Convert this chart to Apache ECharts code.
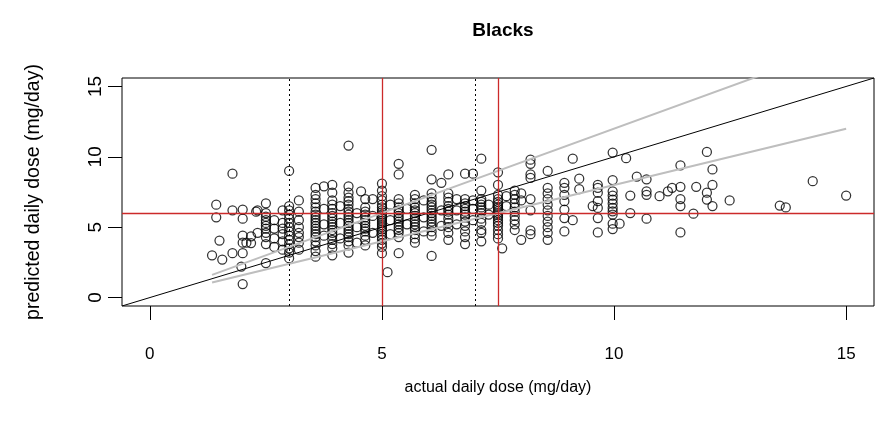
<!DOCTYPE html>
<html>
<head>
<meta charset="utf-8">
<title>Blacks</title>
<script src="https://cdn.jsdelivr.net/npm/echarts@6/dist/echarts.min.js"></script>
</head>
<body style="margin:0;background:#fff;">
<div id="main" style="width:876px;height:431px;"></div>
<script>
// actual dose (mg/day) -> predicted doses, one column per dose level
var doseColumns = [
  [1.34, [3.0]],
  [1.43, [6.6, 5.7]],
  [1.5, [4.05]],
  [1.56, [2.7]],
  [1.78, [8.8, 6.2, 3.15]],
  [1.97, [2.2]],
  [2.0, [6.25, 5.6, 4.4, 3.9, 3.15, 0.96]],
  [2.08, [3.9]],
  [2.18, [4.35, 3.87]],
  [2.29, [6.1]],
  [2.32, [6.2, 4.6]],
  [2.5, [6.7, 6.0, 5.75, 5.5, 5.3, 5.1, 4.9, 4.6, 4.3, 3.8, 2.45]],
  [2.68, [5.5, 4.9, 4.2, 3.6]],
  [2.86, [6.2, 5.3, 4.9, 4.5, 4.0, 3.4]],
  [3.0, [9.0, 6.5, 6.2, 5.9, 5.6, 5.3, 5.0, 4.7, 4.4, 4.1, 3.8, 3.5, 3.2, 2.8]],
  [3.21, [6.9, 6.1, 5.5, 5.0, 4.6, 4.3, 3.9, 3.4]],
  [3.57, [7.8, 7.3, 7.0, 6.7, 6.4, 6.1, 5.9, 5.7, 5.5, 5.3, 5.1, 4.9, 4.7, 4.5, 4.3, 4.0, 3.7, 3.3, 2.9]],
  [3.75, [7.9, 6.3, 5.2, 4.4]],
  [3.93, [8.0, 7.45, 6.9, 6.6, 6.3, 6.0, 5.8, 5.6, 5.4, 5.2, 5.0, 4.8, 4.6, 4.4, 4.1, 3.8, 3.5, 3.0]],
  [4.1, [6.5, 5.3, 4.2]],
  [4.28, [10.8, 7.9, 7.45, 7.1, 6.85, 6.6, 6.3, 6.1, 5.9, 5.7, 5.5, 5.3, 5.1, 4.9, 4.7, 4.5, 4.3, 4.0, 3.7, 3.2]],
  [4.46, [6.0, 5.0, 3.9]],
  [4.55, [7.55]],
  [4.64, [7.0, 6.4, 6.1, 5.9, 5.7, 5.5, 5.3, 5.1, 4.9, 4.7, 4.4, 4.1, 3.7]],
  [4.8, [7.0, 5.8, 4.6]],
  [5.0, [8.1, 7.6, 7.2, 6.9, 6.6, 6.4, 6.2, 6.05, 5.9, 5.75, 5.6, 5.45, 5.3, 5.15, 5.0, 4.85, 4.7, 4.5, 4.3, 4.1, 3.85, 3.6, 3.15]],
  [5.12, [1.8]],
  [5.18, [6.6, 5.5, 4.5]],
  [5.36, [9.5, 8.75, 7.0, 6.7, 6.4, 6.2, 6.0, 5.8, 5.6, 5.4, 5.2, 5.0, 4.8, 4.6, 4.3, 3.15]],
  [5.54, [6.3, 5.2]],
  [5.71, [7.3, 7.0, 6.7, 6.4, 6.2, 6.0, 5.8, 5.6, 5.4, 5.2, 5.0, 4.8, 4.5, 4.2, 3.9]],
  [5.9, [6.9, 5.7, 4.7]],
  [6.07, [10.5, 8.4, 7.4, 7.1, 6.8, 6.6, 6.4, 6.2, 6.0, 5.8, 5.6, 5.4, 5.2, 5.0, 4.7, 4.4, 2.96]],
  [6.28, [8.15, 6.2, 5.1]],
  [6.43, [8.75, 7.4, 7.1, 6.8, 6.5, 6.3, 6.1, 5.9, 5.6, 5.3, 5.0, 4.6, 4.1]],
  [6.61, [7.0, 6.2, 5.2]],
  [6.79, [8.8, 7.0, 6.7, 6.5, 6.3, 6.1, 5.9, 5.7, 5.4, 5.1, 4.7, 4.3, 3.8]],
  [6.96, [8.8, 6.9, 6.3, 5.5]],
  [7.14, [9.87, 7.6, 7.0, 6.8, 6.6, 6.4, 6.2, 6.0, 5.6, 5.3, 4.8, 4.6, 4.0]],
  [7.3, [6.6, 5.9]],
  [7.5, [8.9, 8.0, 7.3, 7.0, 6.8, 6.6, 6.45, 6.3, 6.15, 6.0, 5.85, 5.7, 5.5, 5.3, 5.1, 4.8, 4.5, 4.2]],
  [7.59, [3.5]],
  [7.68, [7.2, 6.5]],
  [7.86, [7.6, 7.3, 7.0, 6.7, 6.4, 6.1, 5.8, 5.5, 5.2, 4.8]],
  [8.0, [7.4, 6.9, 4.1]],
  [8.2, [9.8, 9.5, 8.75, 8.5, 7.0, 6.2, 4.77, 4.5]],
  [8.57, [9.0, 7.8, 7.4, 7.0, 6.6, 6.2, 5.8, 5.4, 5.0, 4.6, 4.1]],
  [8.93, [8.15, 7.8, 7.3, 6.85, 6.25, 5.65, 4.7]],
  [9.11, [9.87, 5.5]],
  [9.25, [8.45, 7.7]],
  [9.54, [6.5]],
  [9.65, [8.0, 7.8, 7.45, 6.85, 6.37, 5.65, 4.63]],
  [9.97, [10.3, 8.35, 7.55, 7.25, 6.96, 6.68, 6.37, 6.13, 5.9, 5.25, 4.87]],
  [10.12, [5.25]],
  [10.26, [9.9]],
  [10.35, [7.25, 6.0]],
  [10.49, [8.6]],
  [10.7, [8.4, 7.55, 7.3, 5.6]],
  [10.98, [7.2]],
  [11.16, [7.55]],
  [11.25, [7.8]],
  [11.43, [9.4, 7.87, 7.0, 6.5, 4.63]],
  [11.71, [5.96]],
  [11.77, [7.87]],
  [12.0, [10.35, 7.45, 6.96]],
  [12.12, [9.1, 8.0, 6.5]],
  [12.49, [6.9]],
  [13.57, [6.54]],
  [13.7, [6.4]],
  [14.28, [8.27]],
  [15.0, [7.25]]
];

var axisRange = [-0.6, 15.6];
var tickValues = [0, 5, 10, 15];
var identitySlope = 1;
var bandSlopes = [1.2, 0.8];
var bandFrom = 1.34;
var bandTo = 15;
var redDoses = [5, 7.5];
var redPredicted = [6];
var dottedDoses = [3, 7];

var points = [];
doseColumns.forEach(function (col) {
  col[1].forEach(function (y) { points.push([col[0], y]); });
});

function slopeLine(s, x0, x1) {
  return [[x0, s * x0], [x1, s * x1]];
}

var myChart = echarts.init(document.getElementById('main'));

var font = 'Liberation Sans, Arial, sans-serif';

var series = [
  {
    type: 'scatter',
    data: points,
    symbol: 'circle',
    symbolSize: 9,
    itemStyle: { color: 'rgba(0,0,0,0)', borderColor: '#000', borderWidth: 1.25 },
    emphasis: { disabled: true },
    z: 2
  },
  {
    type: 'line',
    data: slopeLine(identitySlope, axisRange[0], axisRange[1]),
    showSymbol: false,
    lineStyle: { color: '#000', width: 1 },
    clip: true,
    z: 3
  }
];
bandSlopes.forEach(function (s) {
  series.push({
    type: 'line',
    data: slopeLine(s, bandFrom, bandTo),
    showSymbol: false,
    lineStyle: { color: '#bebebe', width: 2 },
    clip: true,
    z: 3
  });
});
series.push({
  type: 'line',
  data: [],
  markLine: {
    silent: true,
    symbol: 'none',
    label: { show: false },
    lineStyle: { color: '#000', width: 1, type: [2, 3] },
    data: dottedDoses.map(function (d) { return { xAxis: d }; })
  },
  z: 4
});
series.push({
  type: 'line',
  data: [],
  markLine: {
    silent: true,
    symbol: 'none',
    label: { show: false },
    lineStyle: { color: '#cc2a2a', width: 1.3, type: 'solid' },
    data: redDoses.map(function (d) { return { xAxis: d }; })
      .concat(redPredicted.map(function (p) { return { yAxis: p }; }))
  },
  z: 4
});

myChart.setOption({
  animation: false,
  title: {
    text: 'Blacks',
    left: 498,
    top: 16,
    textAlign: 'center',
    textStyle: { fontFamily: font, fontSize: 19, fontWeight: 'bold', color: '#000' }
  },
  grid: {
    left: 122, right: 2, top: 78, bottom: 125,
    show: true, borderColor: '#000', borderWidth: 1, backgroundColor: 'transparent'
  },
  xAxis: {
    type: 'value',
    min: axisRange[0],
    max: axisRange[1],
    name: 'actual daily dose (mg/day)',
    nameLocation: 'middle',
    nameGap: 74,
    nameTextStyle: { fontFamily: font, fontSize: 16, color: '#000' },
    axisLine: { show: false, onZero: false },
    splitLine: { show: false },
    axisTick: { show: true, inside: false, length: 14, customValues: tickValues, lineStyle: { color: '#000' } },
    axisLabel: { customValues: tickValues, margin: 40, fontFamily: font, fontSize: 17, color: '#000' }
  },
  yAxis: {
    type: 'value',
    min: axisRange[0],
    max: axisRange[1],
    name: 'predicted daily dose (mg/day)',
    nameLocation: 'middle',
    nameGap: 78,
    nameTextStyle: { fontFamily: font, fontSize: 19.5, color: '#000' },
    axisLine: { show: false, onZero: false },
    splitLine: { show: false },
    axisTick: { show: true, inside: false, length: 14, customValues: tickValues, lineStyle: { color: '#000' } },
    axisLabel: { customValues: tickValues, rotate: 90, margin: 17, fontFamily: font, fontSize: 19, color: '#000' }
  },
  series: series
});
</script>
</body>
</html>
